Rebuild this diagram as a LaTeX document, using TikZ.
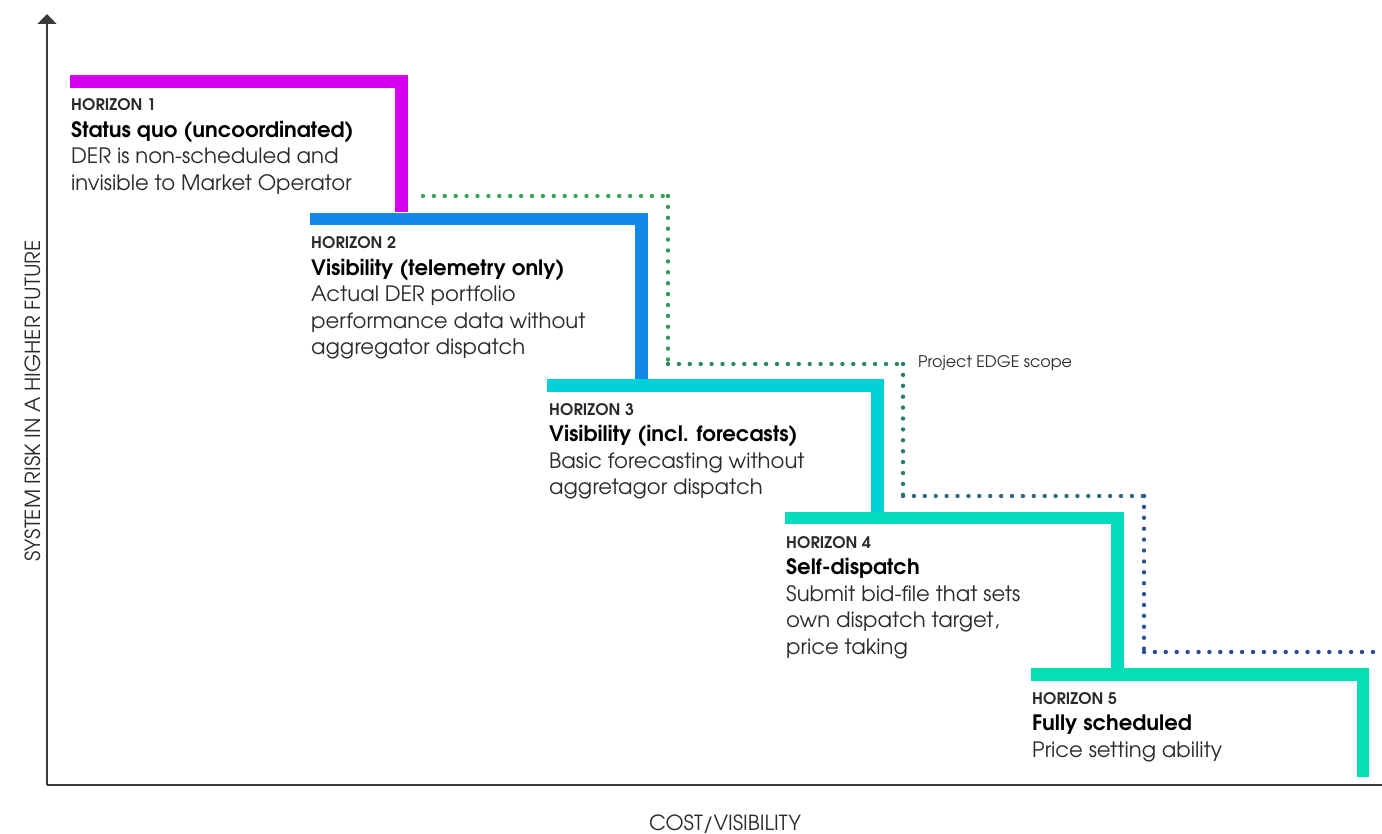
\documentclass[tikz,border=0pt]{standalone}
\usepackage{fontspec}
\setmainfont{texgyreadventor}[Extension=.otf, UprightFont=*-regular, BoldFont=*-bold,
  ItalicFont=*-italic, BoldItalicFont=*-bolditalic]
\usetikzlibrary{arrows.meta}

\definecolor{hone}{HTML}{D400EE}
\definecolor{htwo}{HTML}{1488E6}
\definecolor{hthree}{HTML}{00D0D8}
\definecolor{hfour}{HTML}{04DCC0}
\definecolor{hfive}{HTML}{04E0B4}
\definecolor{axisgray}{HTML}{3A3A3A}
\definecolor{bodytext}{HTML}{2A2A2A}
\definecolor{dotA}{HTML}{36A655}
\definecolor{dotB}{HTML}{339A5A}
\definecolor{dotC}{HTML}{2E8864}
\definecolor{dotD}{HTML}{2D7A70}
\definecolor{dotE}{HTML}{2C6A80}
\definecolor{dotF}{HTML}{2D5890}
\definecolor{dotG}{HTML}{2C4B92}

\newcommand{\hztitle}[1]{{\fontsize{16}{18}\selectfont\bfseries #1}}
\newcommand{\hzname}[1]{{\bfseries\color{black}#1}}

\begin{document}
\begin{tikzpicture}[x=1pt,y=-1pt,
  stair/.style={line width=12.5pt, line cap=butt, line join=miter},
  scopeline/.style={line width=4.4pt, line cap=round, dash pattern=on 0pt off 10.9pt},
  axisline/.style={draw=axisgray, line width=1.4pt},
  hztext/.style={anchor=base west, inner sep=0pt, text=bodytext,
    font=\fontsize{21.2}{26.5}\selectfont},
  axislabel/.style={inner sep=0pt, text=bodytext, font=\fontsize{20.8}{24}\selectfont}]
\useasboundingbox (0,0) rectangle (1382,834);

% axes
\coordinate (origin) at (47,785);
\coordinate (ytop) at (47,14);
\coordinate (xend) at (1382,785);
\draw[axisline, -{Triangle[length=10pt,width=19pt]}] (origin) -- (ytop);
\draw[axisline] (origin) -- (xend);
\node[axislabel, rotate=90] (ylab) at (33,401) {SYSTEM RISK IN A HIGHER FUTURE};
\node[axislabel, anchor=base] (xlab) at (725,830) {COST/VISIBILITY};

% project scope outline
\coordinate (s0) at (423,196);
\coordinate (s1) at (668,196);
\coordinate (s2) at (668,364);
\coordinate (s3) at (903,364);
\coordinate (s4) at (903,496);
\coordinate (s5) at (1144,496);
\coordinate (s6) at (1144,652);
\coordinate (s7) at (1382,652);
\draw[scopeline, dotA] (s0) -- (s1);
\draw[scopeline, dotB] (s1) -- (s2);
\draw[scopeline, dotC] (s2) -- (s3);
\draw[scopeline, dotD] (s3) -- (s4);
\draw[scopeline, dotE] (s4) -- (s5);
\draw[scopeline, dotF] (s5) -- (s6);
\draw[scopeline, dotG] (s6) -- (s7);
\node[anchor=base west, inner sep=0pt, text=bodytext, font=\fontsize{16}{18}\selectfont]
  (scope) at (918,367) {Project EDGE scope};

% the five steps
\draw[stair, hone]   (70,81.5)   -- (401.5,81.5)  -- (401.5,212);
\draw[stair, htwo]   (310,219)   -- (641.5,219)   -- (641.5,379);
\draw[stair, hthree] (547,385.5) -- (877.5,385.5) -- (877.5,512);
\draw[stair, hfour]  (785,518)   -- (1117.5,518)  -- (1117.5,668);
\draw[stair, hfive]  (1031,674.5) -- (1363,674.5) -- (1363,777);

% step descriptions
\node[hztext] (h1) at (71,111) {\begin{tabular}[t]{@{}l@{}}
  \hztitle{HORIZON 1}\\ \hzname{Status quo (uncoordinated)}\\
  DER is non-scheduled and\\ invisible to Market Operator\end{tabular}};
\node[hztext] (h2) at (311,249) {\begin{tabular}[t]{@{}l@{}}
  \hztitle{HORIZON 2}\\ \hzname{Visibility (telemetry only)}\\
  Actual DER portfolio\\ performance data without\\ aggregator dispatch\end{tabular}};
\node[hztext] (h3) at (549,415) {\begin{tabular}[t]{@{}l@{}}
  \hztitle{HORIZON 3}\\ \hzname{Visibility (incl. forecasts)}\\
  Basic forecasting without\\ aggretagor dispatch\end{tabular}};
\node[hztext] (h4) at (786,548) {\begin{tabular}[t]{@{}l@{}}
  \hztitle{HORIZON 4}\\ \hzname{Self-dispatch}\\
  Submit bid-file that sets\\ own dispatch target,\\ price taking\end{tabular}};
\node[hztext] (h5) at (1032,704) {\begin{tabular}[t]{@{}l@{}}
  \hztitle{HORIZON 5}\\ \hzname{Fully scheduled}\\
  Price setting ability\end{tabular}};
\end{tikzpicture}
\end{document}
